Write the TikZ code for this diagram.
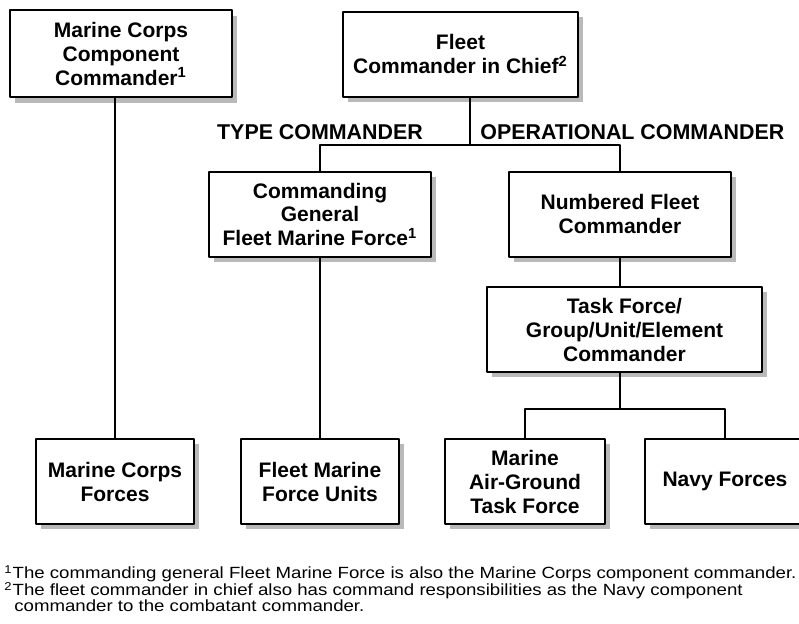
\documentclass[tikz,border=0pt]{standalone}
\usepackage{fontspec}
\setmainfont{Liberation Sans}
\newfontfamily\notafont{Liberation Sans}[FakeStretch=1.15]
\usetikzlibrary{shadows}

\begin{document}
\begin{tikzpicture}[x=.5pt,y=-.5pt,line join=round,line cap=round,
    casella/.style={draw=black,line width=1pt,fill=white,align=center,
      font=\fontsize{10.5}{12}\selectfont\bfseries,inner sep=2pt,
      drop shadow={shadow xshift=2.6pt,shadow yshift=-2.6pt,fill=black!55}},
    ramo/.style={line width=1pt},
    titolo/.style={font=\fontsize{10.7}{12}\selectfont\bfseries,inner sep=0pt},
    nota/.style={font=\notafont\fontsize{8.1}{8.1}\selectfont,anchor=base west,inner sep=0pt}]
  \useasboundingbox (0,0) rectangle (799,624);

  % Comandanti in alto.
  \node[casella,minimum width=111pt,minimum height=43.5pt] (compMarine) at (121,54)
    {Marine Corps\\Component\\Commander\textsuperscript{1}};
  \node[casella,minimum width=117.5pt,minimum height=42.5pt] (capoFlotta) at (460.5,54.5)
    {Fleet\\Commander in Chief\textsuperscript{2}};

  % Titoli delle due linee di comando.
  \node[titolo] (lineaTipo) at (320,132) {TYPE COMMANDER};
  \node[titolo,anchor=west] (lineaOper) at (480,132) {OPERATIONAL COMMANDER};

  % Livello intermedio.
  \node[casella,minimum width=111pt,minimum height=42.5pt] (generale) at (320,214.5)
    {Commanding\\General\\Fleet Marine Force\textsuperscript{1}};
  \node[casella,minimum width=111pt,minimum height=42.5pt] (flottaNum) at (620,214.5)
    {Numbered Fleet\\Commander};
  \node[casella,minimum width=137.5pt,minimum height=42.5pt] (forzaTask) at (624.5,329.5)
    {Task Force/\\Group/Unit/Element\\Commander};

  % Forze sul fondo.
  \node[casella,minimum width=79pt,minimum height=42.5pt] (forzeMarine) at (115,481.5)
    {Marine Corps\\Forces};
  \node[casella,minimum width=79pt,minimum height=42.5pt] (unitaFlotta) at (320,481.5)
    {Fleet Marine\\Force Units};
  \node[casella,minimum width=80pt,minimum height=42.5pt] (magtf) at (525,481.5)
    {Marine\\Air-Ground\\Task Force};
  \node[casella,minimum width=80pt,minimum height=42.5pt] (marina) at (725,481.5)
    {Navy Forces};

  % Rami dell'organigramma.
  \coordinate (nodoAlto) at (470,145);
  \coordinate (nodoBasso) at (620,409);
  \draw[ramo] (forzeMarine.north) -- (forzeMarine.north |- compMarine.south);
  \draw[ramo] (capoFlotta.south -| nodoAlto) -- (nodoAlto);
  \draw[ramo] (generale.north) |- (nodoAlto) -| (flottaNum.north);
  \draw[ramo] (generale.south) -- (unitaFlotta.north);
  \draw[ramo] (flottaNum.south) -- (flottaNum.south |- forzaTask.north);
  \draw[ramo] (forzaTask.south -| nodoBasso) -- (nodoBasso);
  \draw[ramo] (magtf.north) |- (nodoBasso) -| (marina.north);

  % Note a pie' di pagina.
  \node[nota] (nota1) at (4,579)
    {\smash{\textsuperscript{1}}The commanding general Fleet Marine Force is also the Marine Corps component commander.};
  \node[nota] (nota2) at (4,596)
    {\smash{\textsuperscript{2}}The fleet commander in chief also has command responsibilities as the Navy component};
  \node[nota] (nota2b) at (14,612) {commander to the combatant commander.};
\end{tikzpicture}
\end{document}
